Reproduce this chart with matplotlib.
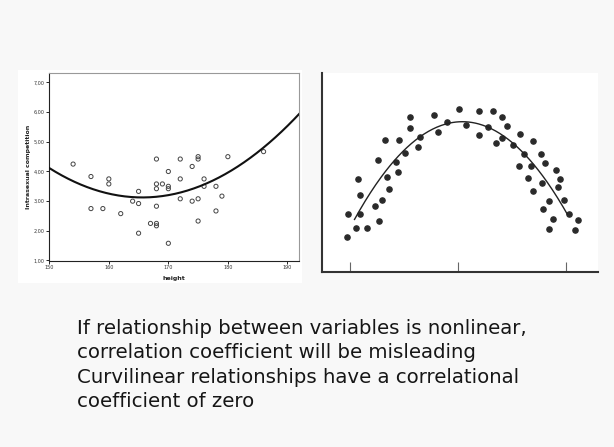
import numpy as np
import matplotlib
matplotlib.use("Agg")
import matplotlib.pyplot as plt
from matplotlib.patches import Rectangle

# left panel: height vs intrasexual competition
height = [154, 157, 157, 159, 160, 160, 162, 164, 165, 165, 165, 167,
          168, 168, 168, 168, 168, 168, 169, 170, 170, 170, 170,
          172, 172, 172, 174, 174, 175, 175, 175, 175, 176, 176,
          178, 178, 179, 180, 186]
competition = [4.25, 3.83, 2.75, 2.75, 3.75, 3.58, 2.58, 3.00, 3.33, 2.92, 1.92, 2.25,
               4.42, 3.58, 3.42, 2.83, 2.25, 2.17, 3.58, 4.00, 3.50, 3.42, 1.58,
               4.42, 3.75, 3.08, 4.17, 3.00, 4.50, 4.42, 3.08, 2.33, 3.75, 3.50,
               3.50, 2.67, 3.17, 4.50, 4.67]
fit_x = [150, 155, 160, 165.5, 170, 175, 180, 185, 192]
fit_y = [4.09, 3.62, 3.28, 3.10, 3.18, 3.47, 3.97, 4.68, 5.93]
x_ticks = [150, 160, 170, 180, 190]
y_ticks = [1, 2, 3, 4, 5, 6, 7]

# right panel: inverted-U scatter
dot_x = [-1.03, -1.02, -0.95, -0.93, -0.91, -0.91, -0.84, -0.77, -0.74, -0.73,
         -0.71, -0.68, -0.66, -0.64, -0.58, -0.56, -0.55, -0.49, -0.45, -0.45,
         -0.37, -0.35, -0.22, -0.19, -0.10, 0.01, 0.07, 0.19, 0.19, 0.28,
         0.32, 0.35, 0.41, 0.41, 0.45, 0.51, 0.57, 0.56, 0.61, 0.65,
         0.67, 0.69, 0.69, 0.77, 0.78, 0.79, 0.80, 0.84, 0.84, 0.88,
         0.91, 0.92, 0.94, 0.98, 1.03, 1.08, 1.11]
dot_y = [0.32, 0.54, 0.41, 0.86, 0.71, 0.54, 0.41, 0.61, 1.04, 0.47,
         0.67, 1.22, 0.88, 0.77, 1.02, 0.93, 1.22, 1.10, 1.43, 1.33,
         1.16, 1.25, 1.45, 1.30, 1.39, 1.51, 1.36, 1.49, 1.27, 1.34,
         1.49, 1.19, 1.43, 1.24, 1.35, 1.18, 1.28, 0.98, 1.09, 0.87,
         0.98, 1.21, 0.75, 1.09, 0.82, 0.58, 1.01, 0.66, 0.40, 0.49,
         0.94, 0.79, 0.86, 0.67, 0.54, 0.39, 0.48]
curve_range = [-0.96, 1.01]

lines = ["If relationship between variables is nonlinear,",
         "correlation coefficient will be misleading",
         "Curvilinear relationships have a correlational",
         "coefficient of zero"]

fig = plt.figure(figsize=(6.14, 4.47), dpi=100, facecolor="#f8f8f8")
fig.patches.append(Rectangle((18 / 614, 1 - 283 / 447), 284 / 614, 213 / 447,
                             transform=fig.transFigure, facecolor="white",
                             edgecolor="none", zorder=-5))

# ---- left panel
ax1 = fig.add_axes([49.3 / 614, 1 - 260.5 / 447, 250 / 614, 187.2 / 447])
ax1.scatter(height, competition, s=9, facecolors="none", edgecolors="#444444",
            linewidths=0.7, zorder=3)
c = np.polyfit(fit_x, fit_y, 2)
xx = np.linspace(150, 192, 200)
ax1.plot(xx, np.polyval(c, xx), color="#111111", lw=1.5, zorder=4)
ax1.set_xlim(150, 192)
ax1.set_ylim(1, 7.31)
ax1.set_xticks(x_ticks)
ax1.set_xticklabels([str(v) for v in x_ticks], fontsize=3.5, color="#333333")
ax1.set_yticks(y_ticks)
ax1.set_yticklabels(["%d,00" % v for v in y_ticks], fontsize=3.5, color="#333333")
ax1.tick_params(length=2, width=0.6, pad=1.5)
ax1.set_xlabel("height", fontsize=4.5, fontweight="bold", labelpad=4, color="#222222")
ax1.set_ylabel("Intrasexual competition", fontsize=4.5, fontweight="bold",
               labelpad=2, color="#222222")
for s in ["left", "bottom"]:
    ax1.spines[s].set_color("#222222")
    ax1.spines[s].set_linewidth(0.8)
for s in ["top", "right"]:
    ax1.spines[s].set_color("#999999")
    ax1.spines[s].set_linewidth(0.8)

# ---- right panel
ax2 = fig.add_axes([322 / 614, 1 - 272 / 447, 275.7 / 614, 198.7 / 447])
ax2.scatter(dot_x, dot_y, s=14, color="#2a2a2a", zorder=3)
p = np.polyfit(dot_x, dot_y, 2)
cx = np.linspace(curve_range[0], curve_range[1], 200)
ax2.plot(cx, np.polyval(p, cx), color="#222222", lw=1.0, zorder=4)
ax2.set_xlim(-1.261, 1.292)
ax2.set_ylim(0, 1.839)
ax2.set_xticks([-1, 0, 1])
ax2.set_xticklabels([])
ax2.set_yticks([])
ax2.tick_params(axis="x", direction="in", length=7, width=0.8, color="#666666")
for s in ["top", "right"]:
    ax2.spines[s].set_visible(False)
for s in ["left", "bottom"]:
    ax2.spines[s].set_color("#333333")
    ax2.spines[s].set_linewidth(1.5)

fig.text(77 / 614, 1 - 319 / 447, "\n".join(lines), fontsize=14.2,
         va="top", ha="left", color="#161616", linespacing=1.36)

fig.savefig("out.png", dpi=100, facecolor=fig.get_facecolor())
